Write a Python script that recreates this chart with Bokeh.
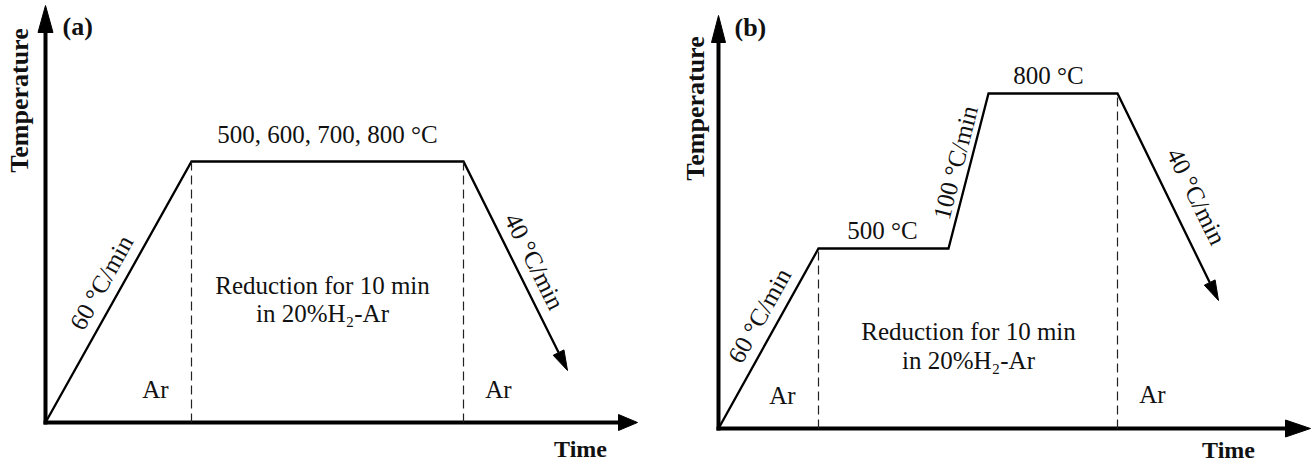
import math
from bokeh.plotting import figure
from bokeh.models import Range1d
from bokeh.embed import file_html
from bokeh.resources import INLINE
from bokeh.core.properties import value

# ---------------- data (schematic units, relative to each panel origin) -------------
# Panel (a): heat at 60 °C/min, hold (500/600/700/800 °C), cool at 40 °C/min
a_time = [0, 146, 418, 522]
a_temp = [0, 261, 261, 52]
a_axis_len = (592, 417)          # time axis, temperature axis
# Panel (b): 60 °C/min -> 500 °C hold -> 100 °C/min -> 800 °C hold -> 40 °C/min
b_time = [0, 100, 230, 270, 399, 500]
b_temp = [0, 180, 180, 335, 335, 128]
b_axis_len = (592, 413)

a_labels_rate = ["60 °C/min", "40 °C/min"]
b_labels_rate = ["60 °C/min", "100 °C/min", "40 °C/min"]
a_hold_label = "500, 600, 700, 800 °C"
b_hold_labels = ["500 °C", "800 °C"]
reduction_lines = ["Reduction for 10 min", "in 20%H₂-Ar"]
gas_label = "Ar"
panel_tags = ["(a)", "(b)"]
axis_titles = ["Temperature", "Time"]

# ---------------- layout ----------------
REF_H = 465
a_origin = (45, 422)
b_origin = (718, 428)
W, H = 1312, 463
XR = (0, 1312)
YR = (2, 465)
sx = W / (XR[1] - XR[0])
sy = H / (YR[1] - YR[0])

FONT = value("Liberation Serif")
INK = "#111111"

p = figure(width=W, height=H, x_range=Range1d(*XR), y_range=Range1d(*YR),
           output_backend="svg", toolbar_location=None, min_border=0,
           x_axis_type=None, y_axis_type=None)
p.grid.visible = False
p.outline_line_color = None
p.background_fill_color = "white"
p.border_fill_color = "white"


def to_fig(origin, t, T):
    return [origin[0] + v for v in t], [REF_H - origin[1] + v for v in T]


def head(tip_x, tip_y, from_x, from_y, length, width):
    # triangle arrow head computed in screen space
    dx = (tip_x - from_x) * sx
    dy = (tip_y - from_y) * sy
    n = math.hypot(dx, dy)
    ux, uy = dx / n, dy / n
    bx, by = tip_x * sx - ux * length, tip_y * sy - uy * length
    px, py = -uy, ux
    xs = [tip_x * sx, bx + px * width / 2, bx - px * width / 2]
    ys = [tip_y * sy, by + py * width / 2, by - py * width / 2]
    base = (bx / sx, by / sy)
    return [v / sx for v in xs], [v / sy for v in ys], base


heads_x, heads_y = [], []


def axes(origin, axis_len, xhead, yhead):
    ox, oy = to_fig(origin, [0], [0])
    ox, oy = ox[0], oy[0]
    # time axis
    tx, ty = ox + axis_len[0], oy
    hx, hy, base = head(tx, ty, ox, oy, *xhead)
    heads_x.append(hx); heads_y.append(hy)
    p.line([ox - 2, base[0] + 1], [oy, oy], line_width=4, color="black")
    # temperature axis
    vx, vy = ox, oy + axis_len[1]
    hx, hy, base = head(vx, vy, ox, oy, *yhead)
    heads_x.append(hx); heads_y.append(hy)
    p.line([ox, ox], [oy - 2, base[1] + 1], line_width=4, color="black")


axes(a_origin, a_axis_len, (19, 16), (27, 15))
axes(b_origin, b_axis_len, (25, 17), (27, 14))


def profile(origin, t, T):
    xs, ys = to_fig(origin, t, T)
    hx, hy, base = head(xs[-1], ys[-1], xs[-2], ys[-2], 20, 12)
    heads_x.append(hx); heads_y.append(hy)
    p.line(xs[:-1] + [base[0]], ys[:-1] + [base[1]], line_width=2.3,
           color="black", line_join="miter")
    return xs, ys


axs, ays = profile(a_origin, a_time, a_temp)
bxs, bys = profile(b_origin, b_time, b_temp)

# dashed boundaries of the reduction stage
oy_a = REF_H - a_origin[1]
oy_b = REF_H - b_origin[1]
p.segment(x0=[axs[1], axs[2]], y0=[oy_a, oy_a], x1=[axs[1], axs[2]], y1=[ays[1], ays[2]],
          line_width=1.2, line_dash="9 5", color="#222222")
p.segment(x0=[bxs[1], bxs[4]], y0=[oy_b, oy_b], x1=[bxs[1], bxs[4]], y1=[bys[1], bys[4]],
          line_width=1.2, line_dash="9 5", color="#222222")

p.patches(heads_x, heads_y, fill_color="black", line_color="black", line_width=1)


def ang(xs, ys, i):
    return math.atan2((ys[i + 1] - ys[i]) * sy, (xs[i + 1] - xs[i]) * sx)


# ---------------- texts ----------------
# bold: panel tags
p.text(x=[62, 734], y=[REF_H - 26, REF_H - 27], text=panel_tags, text_font=FONT,
       text_font_style="bold", text_font_size="26px", text_align="left",
       text_baseline="middle", text_color=INK)
# bold: axis titles
p.text(x=[19, 695], y=[REF_H - 100, REF_H - 108], text=[axis_titles[0]] * 2,
       angle=[math.pi / 2] * 2, text_font=FONT, text_font_style="bold",
       text_font_size="26px", text_align="center", text_baseline="middle", text_color=INK)
p.text(x=[580, 1228], y=[REF_H - 448, REF_H - 449], text=[axis_titles[1]] * 2,
       text_font=FONT, text_font_style="bold", text_font_size="24px",
       text_align="center", text_baseline="middle", text_color=INK)

# hold temperatures
p.text(x=[327, 882, 1048], y=[REF_H - 134, REF_H - 230, REF_H - 75],
       text=[a_hold_label] + b_hold_labels, text_font=FONT, text_font_size="25px",
       text_align="center", text_baseline="middle", text_color=INK)

# rates along slopes
p.text(x=[101, 534, 759, 955, 1196],
       y=[REF_H - 282, REF_H - 261, REF_H - 315, REF_H - 162, REF_H - 196],
       text=a_labels_rate + [b_labels_rate[0], b_labels_rate[1], b_labels_rate[2]],
       angle=[ang(axs, ays, 0), ang(axs, ays, 2), ang(bxs, bys, 0), ang(bxs, bys, 2),
              ang(bxs, bys, 4)],
       text_font=FONT, text_font_size="25px", text_align="center",
       text_baseline="middle", text_color=INK)

# gas atmospheres
p.text(x=[155, 498, 782, 1152], y=[REF_H - 389, REF_H - 389, REF_H - 395, REF_H - 394],
       text=[gas_label] * 4, text_font=FONT, text_font_size="25px",
       text_align="center", text_baseline="middle", text_color=INK)

# reduction stage
p.text(x=[322, 322, 968, 968], y=[REF_H - 285, REF_H - 313, REF_H - 331, REF_H - 360],
       text=reduction_lines * 2, text_font=FONT, text_font_size="25px",
       text_align="center", text_baseline="middle", text_color=INK)

open("out.html", "w").write(file_html(p, INLINE))
